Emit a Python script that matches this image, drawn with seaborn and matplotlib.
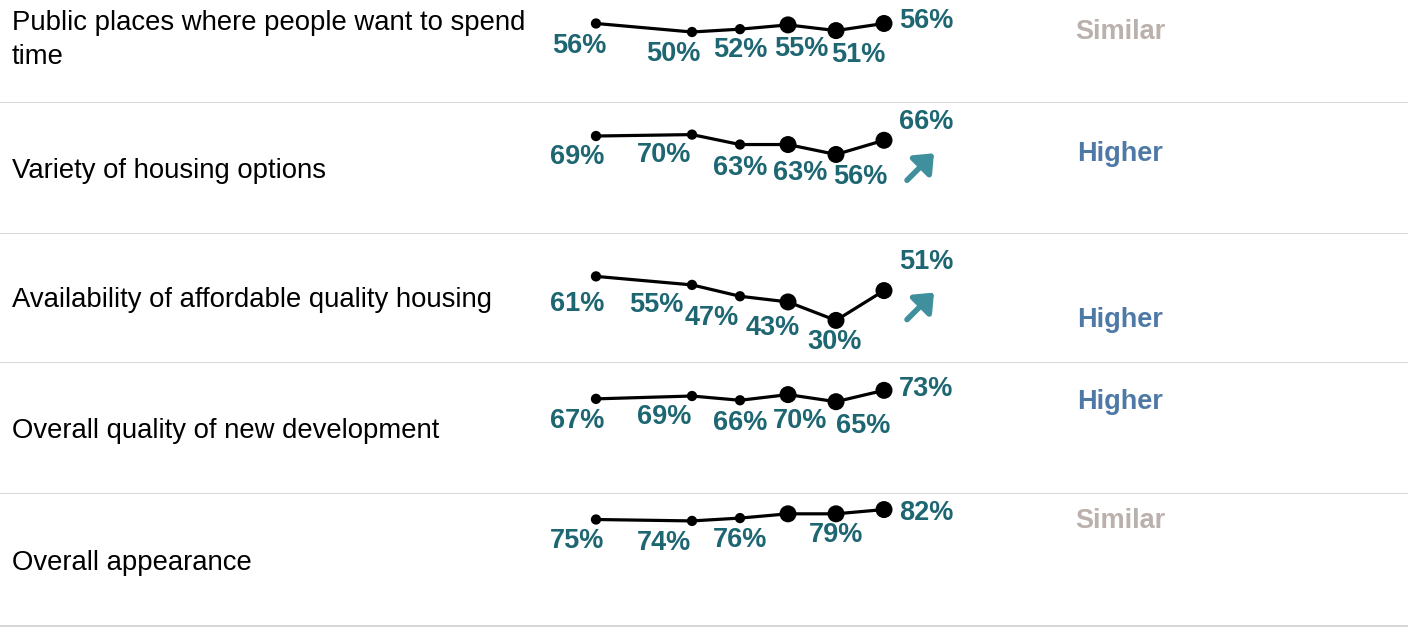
import numpy as np
import pandas as pd
import matplotlib.pyplot as plt
import matplotlib.transforms as mtransforms
import seaborn as sns

# Data
metrics = ["Public places where people want to spend\ntime",
           "Variety of housing options",
           "Availability of affordable quality housing",
           "Overall quality of new development",
           "Overall appearance"]
waves = [0, 2, 3, 4, 5, 6]          # survey waves (uneven spacing)
recent = [False, False, False, True, True, True]   # larger markers
public_places = [56, 50, 52, 55, 51, 56]
housing_variety = [69, 70, 63, 63, 56, 66]
affordable_housing = [61, 55, 47, 43, 30, 51]
new_development = [67, 69, 66, 70, 65, 73]
appearance = [75, 74, 76, 79, 79, 82]
comparison = ["Similar", "Higher", "Higher", "Higher", "Similar"]
trend_arrow = [False, True, True, False, False]
hidden_labels = [(4, 3)]   # (row, wave index) labels the original drops

series = [public_places, housing_variety, affordable_housing,
          new_development, appearance]

# long form table
df = pd.DataFrame([
    {"row": r, "wave": w, "value": v, "recent": rc}
    for r, vals in enumerate(series)
    for w, v, rc in zip(waves, vals, recent)
])

# Layout (pixels of a 1408x629 figure)
W, H = 1408, 629
row_top = [0, 103, 234, 363, 494]
row_bot = [103, 234, 363, 494, 626]
px_per_unit = 1.42
px_per_wave = 48
x0_px = 596
# label nudges in pixels (x right, y down), as placed in the original
nudge_x = [[-17, -19, 0, 13, 22],
           [-19, -28, 0, 12, 24],
           [-19, -36, -28, -15, -1],
           [-19, -28, 0, 12, 27],
           [-19, -28, 0, 0, 0]]
nudge_y = [[23, 22, 21, 24, 24],
           [21, 20, 23, 28, 23],
           [28, 20, 22, 26, 22],
           [22, 21, 23, 26, 24],
           [22, 22, 22, 0, 21]]
last_up = [2, 18, 29, 1, -3]

teal = "#1d6672"
arrow_col = "#3f8f9c"
comp_col = {"Similar": "#bab0ac", "Higher": "#4e79a7"}
fs_bold = 19.5
fs_text = 19.8

sns.set_style("white")
plt.rcParams["font.family"] = ["Liberation Sans", "DejaVu Sans"]

fig = plt.figure(figsize=(W / 100, H / 100), dpi=100)

for i in range(len(series)):
    h = row_bot[i] - row_top[i]
    ax = fig.add_axes([0, 1 - row_bot[i] / H, 1, h / H])
    d = df[df.row == i]

    sns.lineplot(data=d, x="wave", y="value", color="black", lw=2.3, ax=ax)
    sns.scatterplot(data=d, x="wave", y="value", size="recent",
                    sizes={False: 55, True: 150}, color="black",
                    edgecolor="none", legend=False, ax=ax, zorder=3)

    ax.set_xlim(-x0_px / px_per_wave, (W - x0_px) / px_per_wave)
    ax.set_ylim(0, h / px_per_unit)
    ax.set_xticks([])
    ax.set_yticks([])
    ax.set_xlabel("")
    ax.set_ylabel("")
    for s in ["top", "left", "right"]:
        ax.spines[s].set_visible(False)
    ax.spines["bottom"].set_color("#d6d6d6")
    ax.spines["bottom"].set_linewidth(1.4)

    vals = series[i]
    for j, (w, v) in enumerate(zip(waves, vals)):
        if (i, j) in hidden_labels:
            continue
        if j < len(waves) - 1:
            ax.annotate(f"{v}%", (w, v),
                        xytext=(nudge_x[i][j], -nudge_y[i][j]),
                        textcoords="offset pixels", ha="center", va="center",
                        fontsize=fs_bold, fontweight="bold", color=teal)
        else:
            up = last_up[i]
            ax.annotate(f"{v}%", (w, v), xytext=(15, up),
                        textcoords="offset pixels", ha="left", va="center",
                        fontsize=fs_bold, fontweight="bold", color=teal)
            if trend_arrow[i]:
                head = mtransforms.offset_copy(ax.transData, fig=fig,
                                               x=50, y=up - 31, units="dots")
                tail = mtransforms.offset_copy(ax.transData, fig=fig,
                                               x=23, y=up - 58, units="dots")
                ax.annotate("", xy=(w, v), xycoords=head,
                            xytext=(w, v), textcoords=tail,
                            arrowprops=dict(arrowstyle="-|>,head_length=0.6,head_width=0.5",
                                            lw=4, color=arrow_col,
                                            mutation_scale=17,
                                            shrinkA=0, shrinkB=0),
                            annotation_clip=False)

    # left metric label at the middle of the full row
    ax.text(12 / W, 44.5, metrics[i], transform=ax.get_yaxis_transform(),
            ha="left", va="center", fontsize=fs_text, color="black",
            linespacing=1.4)
    # comparison text placed at the row minimum
    ax.text(1120 / W, min(vals), comparison[i],
            transform=ax.get_yaxis_transform(), ha="center", va="center",
            fontsize=fs_bold, fontweight="bold", color=comp_col[comparison[i]])

fig.savefig("out.png", dpi=100)
